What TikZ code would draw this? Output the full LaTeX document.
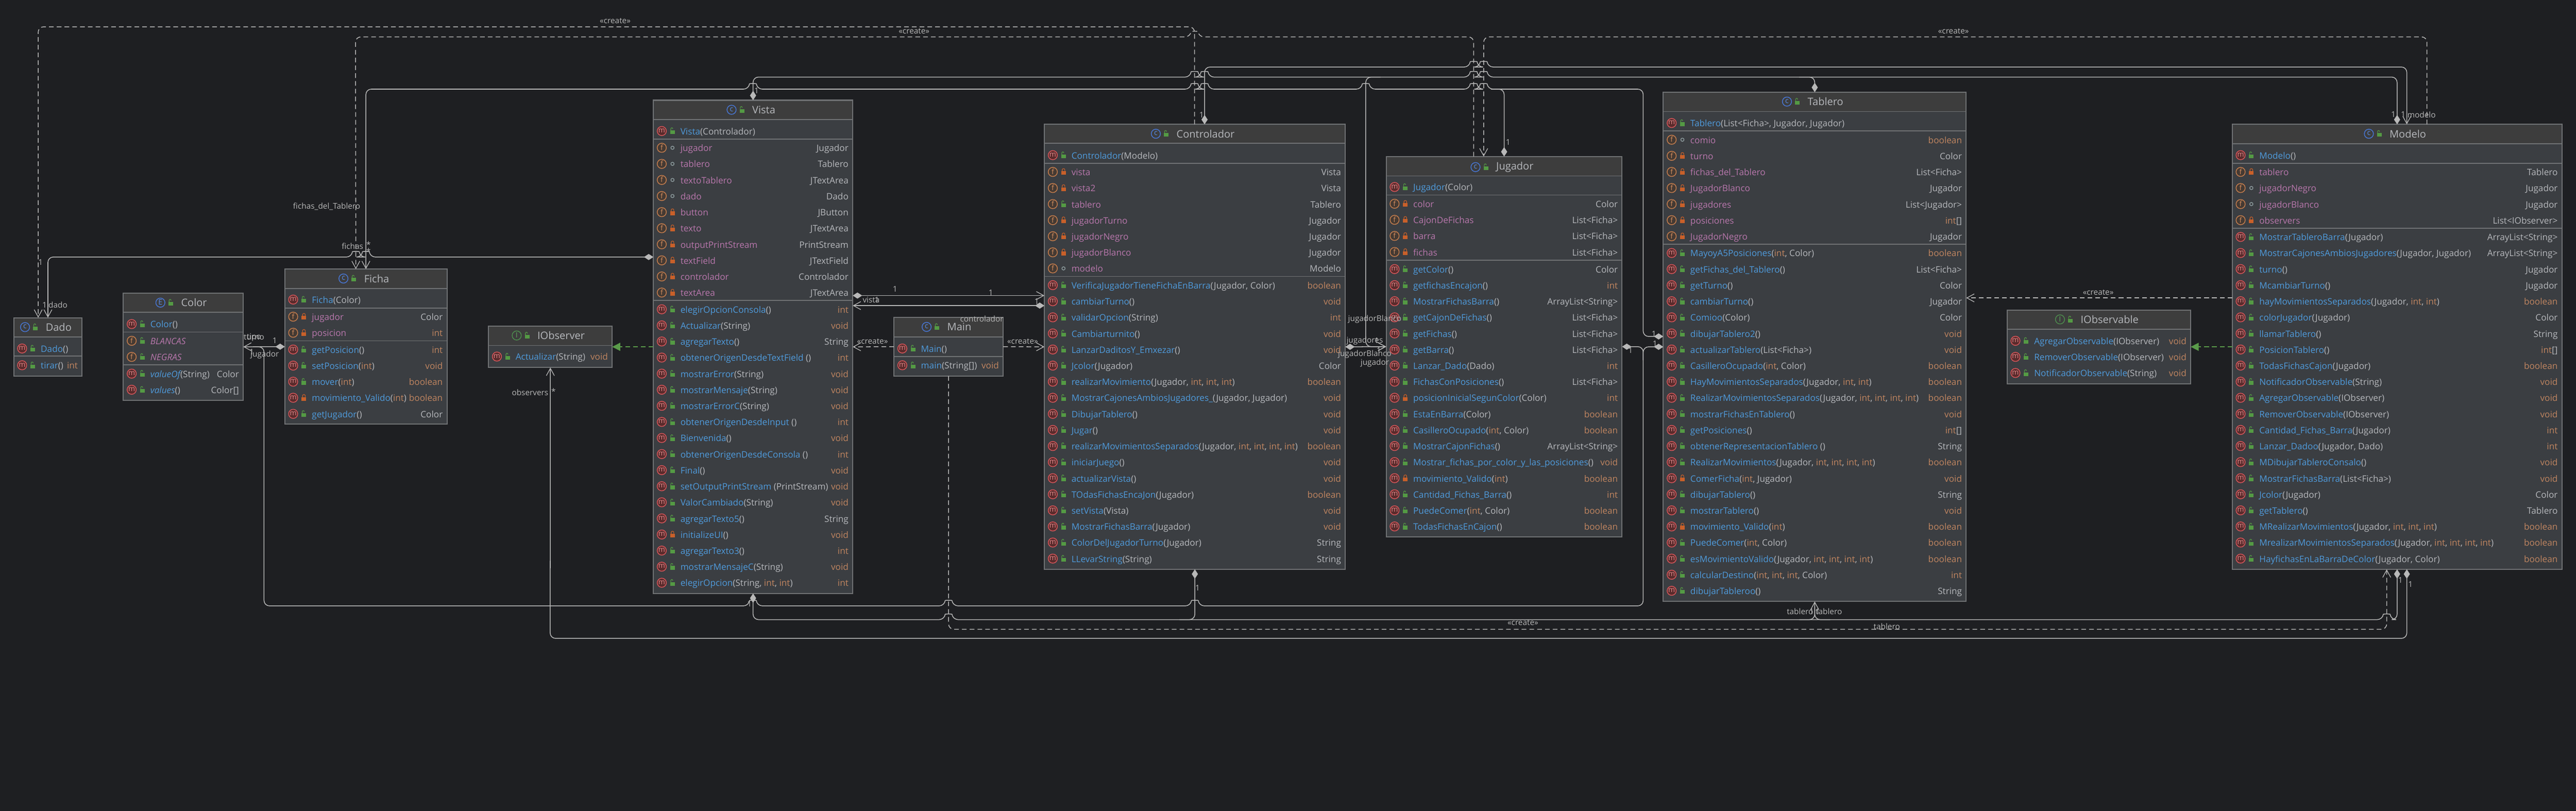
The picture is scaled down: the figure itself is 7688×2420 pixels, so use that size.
\documentclass[tikz,border=0pt]{standalone}
\usepackage{fontspec}
\setmainfont{Open Sans}
\usetikzlibrary{calc,arrows.meta}
\definecolor{bgc}{HTML}{1E1F22}
\definecolor{hdrc}{HTML}{3D3D3D}
\definecolor{bodyc}{HTML}{3B3E42}
\definecolor{bordc}{HTML}{707274}
\definecolor{edgec}{HTML}{B8B8B8}
\definecolor{txtc}{HTML}{B6B8BC}
\definecolor{namec}{HTML}{4F9BDC}
\definecolor{fldc}{HTML}{B877AC}
\definecolor{primc}{HTML}{C08560}
\definecolor{pubc}{HTML}{549A44}
\definecolor{pric}{HTML}{C8602A}
\definecolor{pkgc}{HTML}{8C9A9C}
\definecolor{grnc}{HTML}{5A9B4A}
\definecolor{mring}{HTML}{D9575B}\definecolor{mfill}{HTML}{5A2B2C}\definecolor{mtxt}{HTML}{E0888A}
\definecolor{fring}{HTML}{C87F4E}\definecolor{ffill}{HTML}{453A33}\definecolor{ftxt}{HTML}{D08C5F}
\definecolor{cring}{HTML}{4878D8}\definecolor{cfill}{HTML}{3D3D3D}\definecolor{ctxt}{HTML}{5A8EE8}
\definecolor{iring}{HTML}{4E8F4E}\definecolor{ifill}{HTML}{3D3D3D}\definecolor{itxt}{HTML}{5DA55D}
\newcount\nodeid
\newcount\rowy
\newcommand{\nid}{\global\advance\nodeid by 1 }
\newcommand{\tI}{\textcolor{primc}{int}}
\newcommand{\tB}{\textcolor{primc}{boolean}}
\newcommand{\tV}{\textcolor{primc}{void}}
\newcommand{\lockpub}[2]{\fill[pubc] ({#1-7},{#2-2}) rectangle ({#1+7},{#2+9});
  \draw[pubc,line width=.45pt] ({#1-5},{#2-2}) -- ({#1-5},{#2-6}) .. controls ({#1-5},{#2-11}) and ({#1+1},{#2-11}) .. ({#1+1},{#2-6});}
\newcommand{\lockpri}[2]{\fill[pric] ({#1-7},{#2-2}) rectangle ({#1+7},{#2+9});
  \draw[pric,line width=.45pt] ({#1-4},{#2-2}) -- ({#1-4},{#2-6}) .. controls ({#1-4},{#2-11}) and ({#1+4},{#2-11}) .. ({#1+4},{#2-6}) -- ({#1+4},{#2-2});}
\newcommand{\lockpkg}[2]{\draw[pkgc,line width=.55pt] (#1,#2) circle[radius=1.2pt];}
\newcommand{\icn}[4]{% x y prefix letter
  \draw[draw=#3ring,fill=#3fill,line width=.55pt] (#1,#2) circle[radius=3.4pt];
  \nid\node[inner sep=0pt,text=#3txt,font=\fontsize{5.4pt}{6pt}\selectfont] (ic\the\nodeid) at (#1,{#2-1}) {#4};}
\newcommand{\cls}[9]{% name x1 y1 x2 y2 hdr prefix letter title
  \node[draw=bordc,fill=bodyc,line width=.8pt,inner sep=0pt,outer sep=0pt,rectangle,
    minimum width={(#4-#2)*0.25pt},minimum height={(#5-#3)*0.25pt}] (#1) at ({(#2+#4)/2},{(#3+#5)/2}) {};
  \fill[hdrc] ({#2+2},{#3+2}) rectangle ({#4-2},#6);
  \draw[bordc,line width=.7pt] (#2,#6) -- (#4,#6);
  \node[text=txtc,inner sep=0pt,anchor=mid,font=\fontsize{7.7pt}{9pt}\selectfont] (#1T) at ({(#2+#4)/2+32},{#3+29}) {#9};
  \begin{scope}[shift={($(#1T.west)+(-61,0)$)}]\icn{0}{0}{#7}{#8}\end{scope}
  \begin{scope}[shift={($(#1T.west)+(-30,0)$)}]\lockpub{0}{0}\end{scope}
  \def\xL{#2}\def\xR{#4}}
\newcommand{\seps}[1]{\foreach \s in {#1}{\draw[bordc,line width=.7pt] (\xL,\s) -- (\xR,\s);}}
\newcommand{\setrow}[1]{\global\rowy=#1\relax}
\newcommand{\nextrow}{\global\advance\rowy by 48 }
\newcommand{\rowname}[3]{\nid\node[anchor=mid west,inner sep=0pt,text=txtc,font=\fontsize{6.6pt}{8pt}\selectfont] (n\the\nodeid) at ({\xL+80},\the\rowy) {#1};
  \ifx\relax#2\relax\else\nid\node[anchor=mid east,inner sep=0pt,text=txtc,font=\fontsize{6.6pt}{8pt}\selectfont] (n\the\nodeid) at ({\xR-12},\the\rowy) {#2};\fi}
\newcommand{\rowM}[4]{\icn{\xL+25}{\the\rowy}{m}{m}\csname lock#1\endcsname{\xL+57}{\the\rowy}
  \rowname{\textcolor{namec}{#2}#3}{#4}{}\nextrow}
\newcommand{\rowF}[3]{\icn{\xL+25}{\the\rowy}{f}{f}\csname lock#1\endcsname{\xL+57}{\the\rowy}
  \rowname{\textcolor{fldc}{#2}}{#3}{}\nextrow}
\newcommand{\port}[4]{\coordinate (#1) at ($(#2)+(#3,#4)$);}
\newcommand{\hb}[2]{-- ({#1-12},#2) .. controls ({#1-10},{#2-17}) and ({#1+10},{#2-17}) .. ({#1+12},#2)}
\newcommand{\hbl}[2]{-- ({#1+12},#2) .. controls ({#1+10},{#2-17}) and ({#1-10},{#2-17}) .. ({#1-12},#2)}
\newcommand{\elab}[3]{\nid\node[inner sep=0pt,text=edgec,font=\fontsize{5.9pt}{7pt}\selectfont] (L\the\nodeid) at (#1,#2) {#3};}
\tikzset{
  oarrow/.tip={Straight Barb[length=5.5pt,width=6pt,line width=.5pt]},
  dtip/.tip={Diamond[length=7pt,width=4.6pt,fill=edgec,color=edgec]},
  gtip/.tip={Triangle[length=6pt,width=6pt,fill=grnc,color=grnc]},
  edge/.style={draw=edgec,line width=.58pt,rounded corners=4pt},
  dsh/.style={edge,dash pattern=on 3.5pt off 2.3pt},
  gsh/.style={draw=grnc,line width=.6pt,dash pattern=on 3.5pt off 2.3pt}
}
\begin{document}
\begin{tikzpicture}[x=0.25pt,y=-0.25pt]
\fill[bgc] (0,0) rectangle (7688,2420);
\useasboundingbox (0,0) rectangle (7688,2420);

% ---- Dado
\cls{dado}{41}{948}{245}{1122}{1005}{c}{c}{Dado}
\seps{1063}
\setrow{1040}\rowM{pub}{Dado}{()}{}
\setrow{1090}\rowM{pub}{tirar}{()}{\tI}
% ---- Color
\cls{color}{368}{875}{726}{1195}{932}{c}{E}{Color}
\seps{991,1089}
\setrow{967}\rowM{pub}{Color}{()}{}
\setrow{1017}\rowF{pub}{\itshape BLANCAS}{}
\rowF{pub}{\itshape NEGRAS}{}
\setrow{1115}\rowM{pub}{\itshape valueOf}{(String)}{Color}
\rowM{pub}{\itshape values}{()}{Color[]}
% ---- Ficha
\cls{ficha}{850}{803}{1334}{1266}{861}{c}{c}{Ficha}
\seps{919,1017}
\setrow{894}\rowM{pub}{Ficha}{(Color)}{}
\setrow{945}\rowF{pri}{jugador}{Color}
\rowF{pri}{posicion}{\tI}
\setrow{1043}\rowM{pub}{getPosicion}{()}{\tI}
\rowM{pub}{setPosicion}{(\tI)}{\tV}
\rowM{pub}{mover}{(\tI)}{\tB}
\rowM{pri}{movimiento\_Valido}{(\tI)}{\tB}
\rowM{pub}{getJugador}{()}{Color}
% ---- IObserver
\cls{iobs}{1458}{973}{1827}{1097}{1031}{i}{I}{IObserver}
\setrow{1064}\rowM{pub}{Actualizar}{(String)}{\tV}
% ---- Vista
\cls{vista}{1950}{299}{2545}{1771}{357}{c}{c}{Vista}
\seps{415,897}
\setrow{391}\rowM{pub}{Vista}{(Controlador)}{}
\setrow{441}\rowF{pkg}{jugador}{Jugador}
\rowF{pkg}{tablero}{Tablero}
\rowF{pkg}{textoTablero}{JTextArea}
\rowF{pkg}{dado}{Dado}
\rowF{pri}{button}{JButton}
\rowF{pri}{texto}{JTextArea}
\rowF{pri}{outputPrintStream}{PrintStream}
\rowF{pri}{textField}{JTextField}
\rowF{pri}{controlador}{Controlador}
\rowF{pri}{textArea}{JTextArea}
\setrow{923}\rowM{pub}{elegirOpcionConsola}{()}{\tI}
\rowM{pub}{Actualizar}{(String)}{\tV}
\rowM{pub}{agregarTexto}{()}{String}
\rowM{pub}{obtenerOrigenDesdeTextField}{ ()}{\tI}
\rowM{pub}{mostrarError}{(String)}{\tV}
\rowM{pub}{mostrarMensaje}{(String)}{\tV}
\rowM{pub}{mostrarErrorC}{(String)}{\tV}
\rowM{pub}{obtenerOrigenDesdeInput}{ ()}{\tI}
\rowM{pub}{Bienvenida}{()}{\tV}
\rowM{pub}{obtenerOrigenDesdeConsola}{ ()}{\tI}
\rowM{pub}{Final}{()}{\tV}
\rowM{pub}{setOutputPrintStream}{ (PrintStream)}{\tV}
\rowM{pub}{ValorCambiado}{(String)}{\tV}
\rowM{pub}{agregarTexto5}{()}{String}
\rowM{pri}{initializeUI}{()}{\tV}
\rowM{pub}{agregarTexto3}{()}{\tI}
\rowM{pub}{mostrarMensajeC}{(String)}{\tV}
\rowM{pub}{elegirOpcion}{(String, \tI, \tI)}{\tI}
% ---- Main
\cls{main}{2668}{947}{2994}{1122}{1006}{c}{c}{Main}
\seps{1064}
\setrow{1040}\rowM{pub}{Main}{()}{}
\setrow{1090}\rowM{pub}{main}{(String[])}{\tV}
% ---- Controlador
\cls{con}{3117}{371}{4015}{1699}{428}{c}{c}{Controlador}
\seps{487,825}
\setrow{463}\rowM{pub}{Controlador}{(Modelo)}{}
\setrow{513}\rowF{pri}{vista}{Vista}
\rowF{pri}{vista2}{Vista}
\rowF{pub}{tablero}{Tablero}
\rowF{pri}{jugadorTurno}{Jugador}
\rowF{pri}{jugadorNegro}{Jugador}
\rowF{pri}{jugadorBlanco}{Jugador}
\rowF{pkg}{modelo}{Modelo}
\setrow{851}\rowM{pub}{VerificaJugadorTieneFichaEnBarra}{(Jugador, Color)}{\tB}
\rowM{pub}{cambiarTurno}{()}{\tV}
\rowM{pub}{validarOpcion}{(String)}{\tI}
\rowM{pub}{Cambiarturnito}{()}{\tV}
\rowM{pub}{LanzarDaditosY\_Emxezar}{()}{\tV}
\rowM{pub}{Jcolor}{(Jugador)}{Color}
\rowM{pub}{realizarMovimiento}{(Jugador, \tI, \tI, \tI)}{\tB}
\rowM{pub}{MostrarCajonesAmbiosJugadores\_}{(Jugador, Jugador)}{\tV}
\rowM{pub}{DibujarTablero}{()}{\tV}
\rowM{pub}{Jugar}{()}{\tV}
\rowM{pub}{realizarMovimientosSeparados}{(Jugador, \tI, \tI, \tI, \tI)}{\tB}
\rowM{pub}{iniciarJuego}{()}{\tV}
\rowM{pub}{actualizarVista}{()}{\tV}
\rowM{pub}{TOdasFichasEncaJon}{(Jugador)}{\tB}
\rowM{pub}{setVista}{(Vista)}{\tV}
\rowM{pub}{MostrarFichasBarra}{(Jugador)}{\tV}
\rowM{pub}{ColorDelJugadorTurno}{(Jugador)}{String}
\rowM{pub}{LLevarString}{(String)}{String}
% ---- Jugador
\cls{jug}{4137}{467}{4841}{1602}{525}{c}{c}{Jugador}
\seps{582,777}
\setrow{558}\rowM{pub}{Jugador}{(Color)}{}
\setrow{608}\rowF{pri}{color}{Color}
\rowF{pri}{CajonDeFichas}{List<Ficha>}
\rowF{pri}{barra}{List<Ficha>}
\rowF{pri}{fichas}{List<Ficha>}
\setrow{803}\rowM{pub}{getColor}{()}{Color}
\rowM{pub}{getfichasEncajon}{()}{\tI}
\rowM{pub}{MostrarFichasBarra}{()}{ArrayList<String>}
\rowM{pub}{getCajonDeFichas}{()}{List<Ficha>}
\rowM{pub}{getFichas}{()}{List<Ficha>}
\rowM{pub}{getBarra}{()}{List<Ficha>}
\rowM{pub}{Lanzar\_Dado}{(Dado)}{\tI}
\rowM{pub}{FichasConPosiciones}{()}{List<Ficha>}
\rowM{pri}{posicionInicialSegunColor}{(Color)}{\tI}
\rowM{pub}{EstaEnBarra}{(Color)}{\tB}
\rowM{pub}{CasilleroOcupado}{(\tI, Color)}{\tB}
\rowM{pub}{MostrarCajonFichas}{()}{ArrayList<String>}
\rowM{pub}{Mostrar\_fichas\_por\_color\_y\_las\_posiciones}{()}{\tV}
\rowM{pri}{movimiento\_Valido}{(\tI)}{\tB}
\rowM{pub}{Cantidad\_Fichas\_Barra}{()}{\tI}
\rowM{pub}{PuedeComer}{(\tI, Color)}{\tB}
\rowM{pub}{TodasFichasEnCajon}{()}{\tB}
% ---- Tablero
\cls{tab}{4964}{275}{5868}{1795}{333}{c}{c}{Tablero}
\seps{391,729}
\setrow{367}\rowM{pub}{Tablero}{(List<Ficha>, Jugador, Jugador)}{}
\setrow{417}\rowF{pkg}{comio}{\tB}
\rowF{pri}{turno}{Color}
\rowF{pri}{fichas\_del\_Tablero}{List<Ficha>}
\rowF{pri}{JugadorBlanco}{Jugador}
\rowF{pri}{jugadores}{List<Jugador>}
\rowF{pri}{posiciones}{\tI[]}
\rowF{pri}{JugadorNegro}{Jugador}
\setrow{755}\rowM{pub}{MayoyA5Posiciones}{(\tI, Color)}{\tB}
\rowM{pub}{getFichas\_del\_Tablero}{()}{List<Ficha>}
\rowM{pub}{getTurno}{()}{Color}
\rowM{pub}{cambiarTurno}{()}{Jugador}
\rowM{pub}{Comioo}{(Color)}{Color}
\rowM{pub}{dibujarTablero2}{()}{\tV}
\rowM{pub}{actualizarTablero}{(List<Ficha>)}{\tV}
\rowM{pub}{CasilleroOcupado}{(\tI, Color)}{\tB}
\rowM{pub}{HayMovimientosSeparados}{(Jugador, \tI, \tI)}{\tB}
\rowM{pub}{RealizarMovimientosSeparados}{(Jugador, \tI, \tI, \tI, \tI)}{\tB}
\rowM{pub}{mostrarFichasEnTablero}{()}{\tV}
\rowM{pub}{getPosiciones}{()}{\tI[]}
\rowM{pub}{obtenerRepresentacionTablero}{ ()}{String}
\rowM{pub}{RealizarMovimientos}{(Jugador, \tI, \tI, \tI, \tI)}{\tB}
\rowM{pri}{ComerFicha}{(\tI, Jugador)}{\tV}
\rowM{pub}{dibujarTablero}{()}{String}
\rowM{pub}{mostrarTablero}{()}{\tV}
\rowM{pri}{movimiento\_Valido}{(\tI)}{\tB}
\rowM{pub}{PuedeComer}{(\tI, Color)}{\tB}
\rowM{pub}{esMovimientoValido}{(Jugador, \tI, \tI, \tI, \tI)}{\tB}
\rowM{pub}{calcularDestino}{(\tI, \tI, \tI, Color)}{\tI}
\rowM{pub}{dibujarTableroo}{()}{String}
% ---- IObservable
\cls{iobl}{5990}{925}{6538}{1145}{983}{i}{I}{IObservable}
\setrow{1017}\rowM{pub}{AgregarObservable}{(IObserver)}{\tV}
\rowM{pub}{RemoverObservable}{(IObserver)}{\tV}
\rowM{pub}{NotificadorObservable}{(String)}{\tV}
% ---- Modelo
\cls{mod}{6662}{371}{7646}{1699}{429}{c}{c}{Modelo}
\seps{487,681}
\setrow{463}\rowM{pub}{Modelo}{()}{}
\setrow{513}\rowF{pri}{tablero}{Tablero}
\rowF{pkg}{jugadorNegro}{Jugador}
\rowF{pkg}{jugadorBlanco}{Jugador}
\rowF{pri}{observers}{List<IObserver>}
\setrow{707}\rowM{pub}{MostrarTableroBarra}{(Jugador)}{ArrayList<String>}
\rowM{pub}{MostrarCajonesAmbiosJugadores}{(Jugador, Jugador)}{ArrayList<String>}
\rowM{pub}{turno}{()}{Jugador}
\rowM{pub}{McambiarTurno}{()}{Jugador}
\rowM{pub}{hayMovimientosSeparados}{(Jugador, \tI, \tI)}{\tB}
\rowM{pub}{colorJugador}{(Jugador)}{Color}
\rowM{pub}{llamarTablero}{()}{String}
\rowM{pub}{PosicionTablero}{()}{\tI[]}
\rowM{pub}{TodasFichasCajon}{(Jugador)}{\tB}
\rowM{pub}{NotificadorObservable}{(String)}{\tV}
\rowM{pub}{AgregarObservable}{(IObserver)}{\tV}
\rowM{pub}{RemoverObservable}{(IObserver)}{\tV}
\rowM{pub}{Cantidad\_Fichas\_Barra}{(Jugador)}{\tI}
\rowM{pub}{Lanzar\_Dadoo}{(Jugador, Dado)}{\tI}
\rowM{pub}{MDibujarTableroConsalo}{()}{\tV}
\rowM{pub}{MostrarFichasBarra}{(List<Ficha>)}{\tV}
\rowM{pub}{Jcolor}{(Jugador)}{Color}
\rowM{pub}{getTablero}{()}{Tablero}
\rowM{pub}{MRealizarMovimientos}{(Jugador, \tI, \tI, \tI)}{\tB}
\rowM{pub}{MrealizarMovimientosSeparados}{(Jugador, \tI, \tI, \tI, \tI)}{\tB}
\rowM{pub}{HayfichasEnLaBarraDeColor}{(Jugador, Color)}{\tB}

% ---- Ports
\port{pConDash}{con.north}{-1}{0}
\port{pConDia}{con.north}{29}{0}
\port{pDadoDash}{dado.north}{-29}{0}
\port{pFichaDash}{ficha.north}{-30}{0}
\port{pJugDashA}{jug.north}{-91}{0}
\port{pJugDashB}{jug.north}{-61}{0}
\port{pModB}{mod.north}{29}{0}
\port{pModC}{mod.north}{89}{0}
\port{pModSA}{mod.south}{-31}{0}
\port{pModSC}{mod.south}{29}{0}
\port{pVistaLeftUp}{vista.west}{0}{-268}
\port{pVistaRA}{vista.east}{0}{-153}
\port{pVistaRB}{vista.east}{0}{-123}
\port{pConLA}{con.west}{0}{-153}
\port{pConLB}{con.west}{0}{-123}
\port{pTabLA}{tab.west}{0}{-31}
\port{pTabRight}{tab.east}{0}{-146}
\port{pModLeft}{mod.west}{0}{-146}

% ---- Connectors
\draw[dsh,-oarrow] (pConDash) -- (3565,80) -- (114,80) -- (pDadoDash);
\draw[dsh,-oarrow] (pJugDashA) -- (4398,110) \hbl{3565}{110} -- (1061,110) -- (pFichaDash);
\draw[dsh,-oarrow] (pModC) -- (7243,110) -- (4428,110) -- (pJugDashB);
\draw[edge,dtip-oarrow] (pConDia) -- (3595,200) \hb{4398}{200} \hb{4428}{200} -- (7183,200) -- (pModB);
\draw[edge,dtip-dtip] (vista.north) -- (2247.5,230) \hb{3565}{230} \hb{3595}{230} \hb{4398}{230} \hb{4428}{230} -- (7154,230) -- (mod.north);
\draw[edge,-oarrow] (4120,230) -- (4076,230) -- (4076,1034.5) -- (jug.west);
\draw[edge,dtip-] (tab.north) -- (5416,230) -- (5370,230);
\draw[edge,oarrow-dtip] (ficha.north) -- (1092,266) \hb{2247}{266} \hb{3565}{266} \hb{3595}{266} \hb{4076}{266} \hb{4398}{266} \hb{4428}{266} -- (4904,266) -- (4904,1004) -- (pTabLA);
\draw[edge,dtip-] (jug.north) -- (4489,266) -- (4450,266);
\draw[edge,dtip-oarrow] (pVistaLeftUp) \hbl{1092}{767} \hbl{1062}{767} -- (143,767) -- (dado.north);
\draw[edge,dtip-oarrow] (pVistaRA) -- (pConLA);
\draw[edge,dtip-oarrow] (pConLB) -- (pVistaRB);
\draw[dsh,-oarrow] (main.west) -- (vista.east);
\draw[dsh,-oarrow] (main.east) -- (con.west);
\draw[dsh,-oarrow] (main.south) -- (2831,1878) -- (7123,1878) -- (pModSA);
\draw[edge,dtip-dtip] (vista.south) -- (2247.5,1849) \hb{2831}{1849} \hb{7123}{1849} -- (7154,1849) -- (mod.south);
\draw[edge,dtip-] (con.south) -- (3566,1849) -- (3520,1849);
\draw[edge,-oarrow] (5370,1849) -- (5416,1849) -- (tab.south);
\draw[edge] (5462,1849) -- (5416,1849) -- (5416,1810);
\draw[edge,dtip-oarrow] (ficha.west) -- (color.east);
\draw[edge,dtip-] (jug.east) -- (4904,1034.5) -- (4904,1808) \hbl{3566}{1808} \hbl{2831}{1808} \hbl{2247}{1808} -- (788,1808) -- (788,1035) -- (755,1035);
\draw[edge,dtip-] (tab.west) -- (4904,1035) -- (4904,1075);
\draw[edge,dtip-oarrow] (con.east) -- (jug.west);
\draw[edge,dtip-oarrow] (pModSC) -- (7183,1905) -- (1642,1905) -- (iobs.south);
\draw[gsh,-gtip] (vista.west) -- (iobs.east);
\draw[gsh,-gtip] (mod.west) -- (iobl.east);
\draw[dsh,-oarrow] (pModLeft) -- (pTabRight);

% ---- Labels
\elab{1836}{63}{«create»}
\elab{2728}{93}{«create»}
\elab{5830}{93}{«create»}
\elab{2604}{1018}{«create»}
\elab{3052}{1018}{«create»}
\elab{6262}{873}{«create»}
\elab{4545}{1858}{«create»}
\elab{975}{616}{fichas\_del\_Tablero}
\elab{1052}{734}{fichas}
\elab{1100}{730}{*}
\elab{1100}{750}{*}
\elab{121}{783}{1}
\elab{133}{910}{1}
\elab{173}{910}{dado}
\elab{758}{1006}{tipo}
\elab{758}{1006}{turno}
\elab{820}{1017}{1}
\elab{751}{1050}{1}
\elab{790}{1058}{jugador}
\elab{1582}{1171}{observers}
\elab{1652}{1168}{*}
\elab{2258}{270}{1}
\elab{2237}{1802}{1}
\elab{2671}{863}{1}
\elab{2957}{873}{1}
\elab{2600}{895}{vista}
\elab{2617}{895}{1}
\elab{2930}{951}{controlador}
\elab{3094}{900}{1}
\elab{3586}{343}{1}
\elab{3574}{1755}{1}
\elab{4501}{425}{1}
\elab{4103}{953}{jugadorBlanco}
\elab{4073}{1017}{jugadores}
\elab{4109}{1017}{1}
\elab{4073}{1057}{jugadorBlanco}
\elab{4115}{1046}{1}
\elab{4103}{1083}{jugador}
\elab{4936}{996}{1}
\elab{4939}{1025}{1}
\elab{4866}{1046}{1}
\elab{5372}{1825}{tablero}
\elab{5407}{1825}{1}
\elab{5425}{1825}{1}
\elab{5458}{1825}{tablero}
\elab{5631}{1870}{tablero}
\elab{7143}{342}{1}
\elab{7172}{342}{1}
\elab{7227}{342}{modelo}
\elab{7164}{1732}{1}
\elab{7194}{1743}{1}
\end{tikzpicture}
\end{document}
